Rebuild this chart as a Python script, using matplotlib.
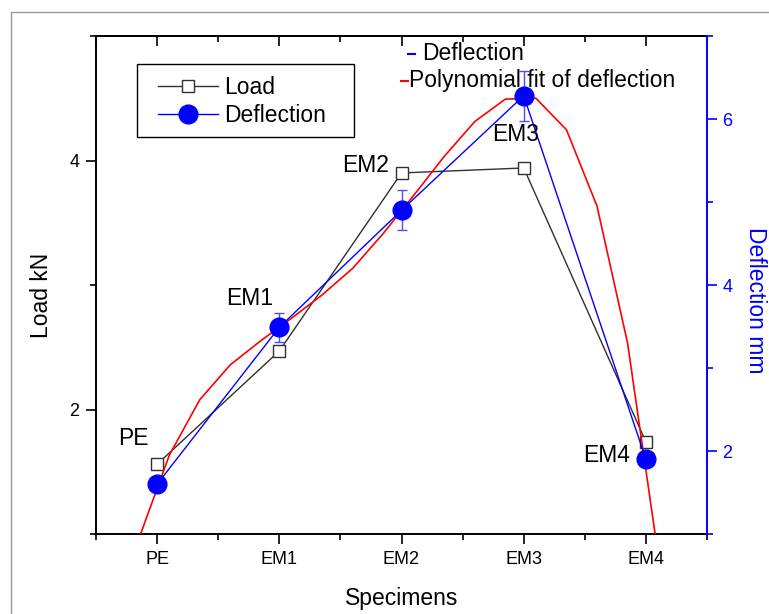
import matplotlib
matplotlib.use("Agg")
import matplotlib.pyplot as plt
from matplotlib.lines import Line2D
from matplotlib.patches import Rectangle
from matplotlib.ticker import FixedLocator

plt.rcParams['font.family'] = ['Liberation Sans', 'DejaVu Sans']

# ---------------- data ----------------
specimens = ['PE', 'EM1', 'EM2', 'EM3', 'EM4']
load_kn = [1.56, 2.47, 3.90, 3.94, 1.74]
deflection_mm = [1.60, 3.49, 4.90, 6.28, 1.90]
deflection_err = [0.0, 0.175, 0.24, 0.30, 0.0]
fit_x = [-0.15, 0.1, 0.35, 0.6, 0.85, 1.1, 1.35, 1.6, 1.85, 2.1,
         2.35, 2.6, 2.85, 3.1, 3.35, 3.6, 3.85, 4.1]
fit_y = [0.94, 1.95, 2.62, 3.04, 3.33, 3.60, 3.88, 4.20, 4.62, 5.08,
         5.55, 5.97, 6.24, 6.25, 5.87, 4.95, 3.30, 0.75]
# annotation offsets (pixels) relative to the deflection points
label_offsets = [(-24, 46), (-30, 29), (-36, 45), (-8, -39), (-39, 4)]

FS = 16.5
TS = 13
xpos = list(range(len(specimens)))

fig = plt.figure(figsize=(7.69, 6.14), dpi=100)
fig.patch.set_facecolor('white')
fig.patches.append(Rectangle((11 / 769, -0.05), 1.0, 1 - 12 / 614 + 0.05,
                             transform=fig.transFigure, fill=False,
                             edgecolor='#9a9a9a', lw=1.0))

ax = fig.add_axes([96 / 769, 1 - 534 / 614, 611 / 769, 498 / 614])

load_line, = ax.plot(xpos, load_kn, color='#303030', lw=1.0, marker='s', ms=9,
                     mfc='white', mec='#303030', mew=1.0, label='Load')
ax.set_xlim(-0.5, 4.5)
ax.set_ylim(1, 5)
ax.set_xticks(xpos)
ax.set_xticklabels(specimens)
ax.xaxis.set_minor_locator(FixedLocator([-0.5, 0.5, 1.5, 2.5, 3.5, 4.5]))
ax.set_yticks([2, 4])
ax.yaxis.set_minor_locator(FixedLocator([1, 3, 5]))
ax.tick_params(which='major', direction='out', length=7, width=1.2, labelsize=TS, pad=5)
ax.tick_params(which='minor', direction='out', length=4.5, width=1.2)
ax.spines['right'].set_visible(False)
for s in ['left', 'top', 'bottom']:
    ax.spines[s].set_linewidth(1.4)
ax.set_xlabel('Specimens', fontsize=FS, labelpad=14)
ax.set_ylabel('Load kN', fontsize=FS, labelpad=12)
ax.yaxis.label.set_y(0.48)

top = ax.secondary_xaxis('top')
top.set_xticks(xpos)
top.set_xticklabels([])
top.xaxis.set_minor_locator(FixedLocator([-0.5, 0.5, 1.5, 2.5, 3.5, 4.5]))
top.tick_params(which='major', direction='in', length=7, width=1.2)
top.tick_params(which='minor', direction='in', length=4.5, width=1.2)
top.spines['top'].set_linewidth(1.4)

ax2 = ax.twinx()
ax2.errorbar(xpos, deflection_mm, yerr=deflection_err, color='blue', lw=1.0,
             ecolor='#4d4dff', elinewidth=1.0, capsize=3.5, capthick=1.0,
             marker='o', ms=13.5, mfc='blue', mec='blue')
ax2.plot(fit_x, fit_y, color='red', lw=1.2)
ax2.set_ylim(1, 7)
ax2.set_yticks([2, 4, 6])
ax2.yaxis.set_minor_locator(FixedLocator([1, 3, 5, 7]))
ax2.tick_params(axis='y', which='major', direction='out', length=7, width=1.2,
                colors='blue', labelsize=TS, pad=4)
ax2.tick_params(axis='y', which='minor', direction='out', length=4.5, width=1.2,
                colors='blue')
for s in ['left', 'top', 'bottom']:
    ax2.spines[s].set_visible(False)
ax2.spines['right'].set_color('blue')
ax2.spines['right'].set_linewidth(1.4)
ax2.set_ylabel('Deflection mm', color='blue', fontsize=FS, rotation=270,
               va='bottom', labelpad=8)
ax2.yaxis.label.set_y(0.47)

for i, name in enumerate(specimens):
    ax2.annotate(name, xy=(xpos[i], deflection_mm[i]), xytext=label_offsets[i],
                 textcoords='offset pixels', ha='center', va='center', fontsize=FS)

# left legend
defl_handle = Line2D([], [], color='blue', lw=1.0, marker='o', ms=13.5,
                     mfc='blue', mec='blue')
ax2.add_patch(Rectangle((0.067, 0.797), 0.4223 - 0.067, 0.944 - 0.797,
                        transform=ax2.transAxes, fill=False, edgecolor='black',
                        lw=1.0, zorder=5))
leg = ax2.legend([load_line, defl_handle], ['Load', 'Deflection'], loc='upper left',
                 bbox_to_anchor=(0.1015, (534 - 76) / 498), frameon=False,
                 fontsize=FS, borderpad=0, borderaxespad=0, handlelength=2.6,
                 handletextpad=0.3, labelspacing=0.22)

# top-right legend
ax2.add_line(Line2D([0.5106, 0.522], [0.964, 0.964], transform=ax2.transAxes,
                    color='blue', lw=1.5, clip_on=False))
ax2.text(0.5336, 0.964, 'Deflection', transform=ax2.transAxes, ha='left',
         va='center', fontsize=FS)
ax2.add_line(Line2D([0.499, 0.5106], [0.910, 0.910], transform=ax2.transAxes,
                    color='red', lw=1.5, clip_on=False))
ax2.text(0.512, 0.910, 'Polynomial fit of deflection', transform=ax2.transAxes,
         ha='left', va='center', fontsize=FS)

fig.savefig('out.png', dpi=100)
